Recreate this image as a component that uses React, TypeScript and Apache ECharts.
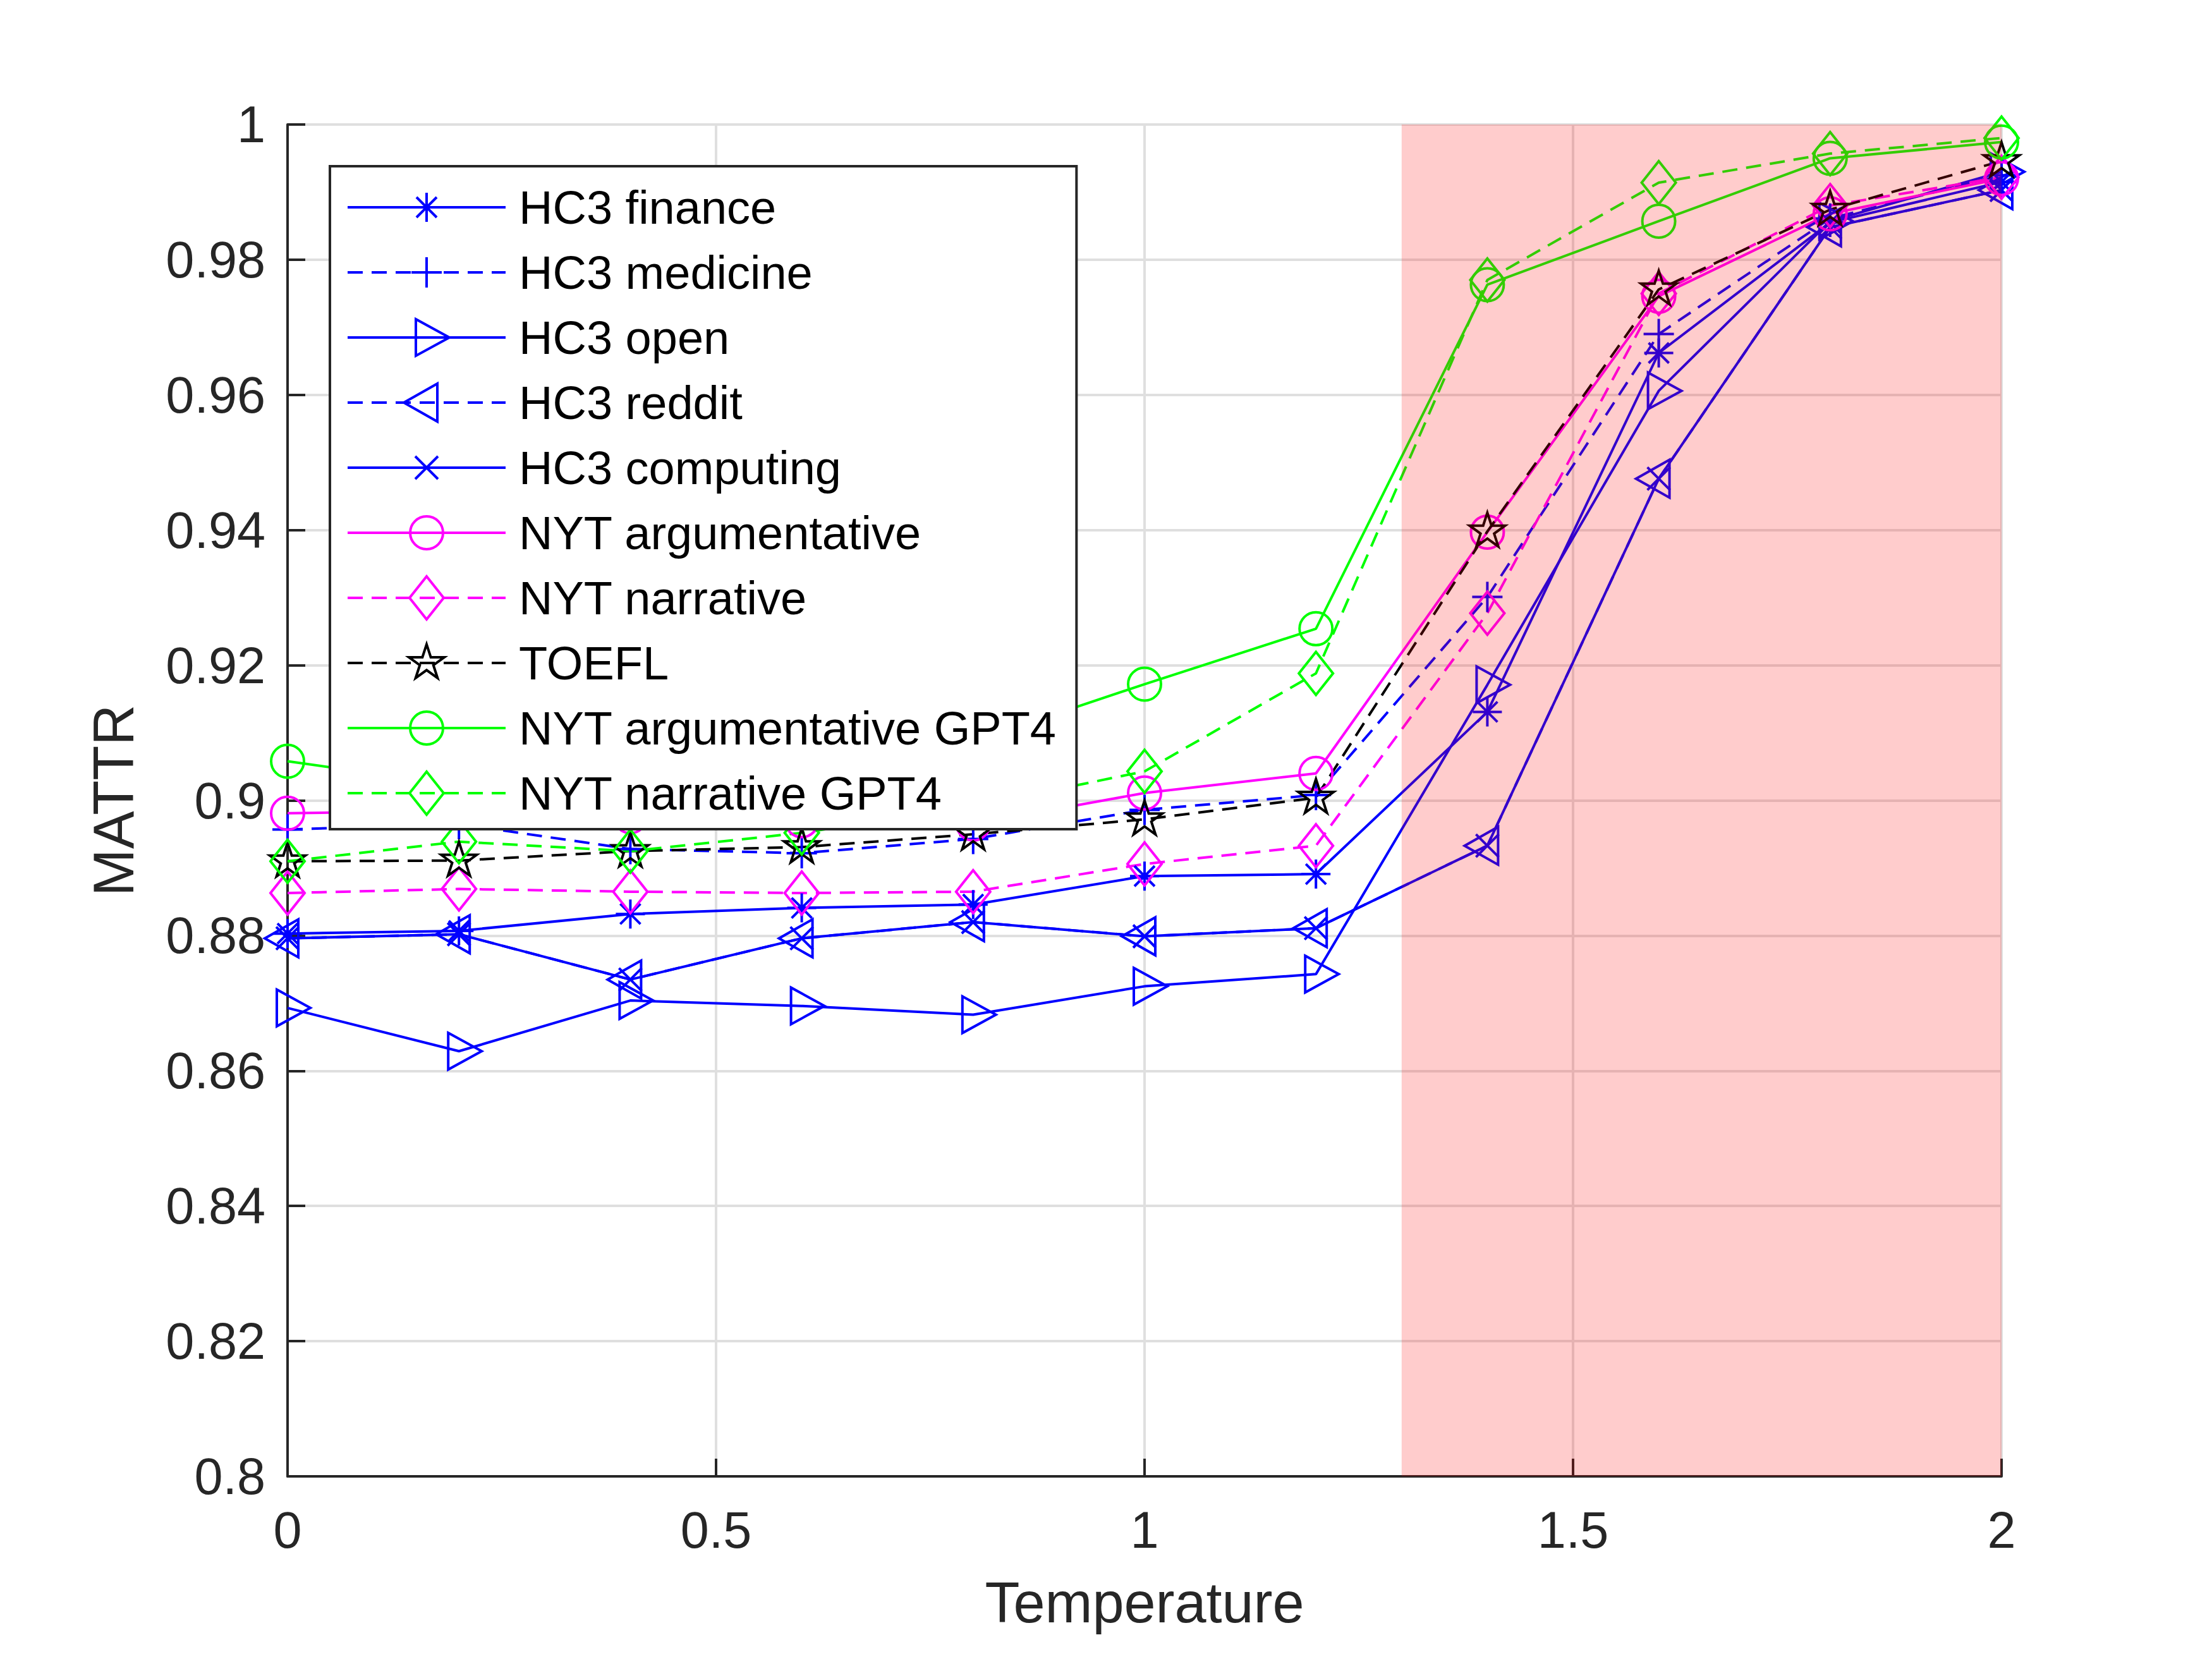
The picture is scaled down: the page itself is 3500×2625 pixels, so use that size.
import React, { useEffect, useRef } from "react";
import * as echarts from "echarts";

// ---------------- data ----------------
const temperatures = [0, 0.2, 0.4, 0.6, 0.8, 1.0, 1.2, 1.4, 1.6, 1.8, 2.0];

const hc3Finance = [0.8803, 0.8807, 0.8832, 0.8841, 0.8846, 0.8888, 0.8891, 0.9131, 0.9662, 0.9855, 0.9915];
const hc3Medicine = [0.8957, 0.8965, 0.8928, 0.8922, 0.8943, 0.8986, 0.9008, 0.9301, 0.969, 0.9861, 0.9925];
const hc3Open = [0.8693, 0.8629, 0.8704, 0.8696, 0.8683, 0.8725, 0.8743, 0.9171, 0.9606, 0.9857, 0.993];
const hc3Reddit = [0.8796, 0.8802, 0.8735, 0.8796, 0.882, 0.8799, 0.8811, 0.8933, 0.9476, 0.9848, 0.9903];
const hc3Computing = [0.8796, 0.8802, 0.8735, 0.8796, 0.882, 0.8799, 0.8811, 0.8933, 0.9476, 0.9848, 0.9903];
const nytArgumentative = [0.8981, 0.8985, 0.8976, 0.897, 0.8965, 0.9011, 0.904, 0.9397, 0.9746, 0.9868, 0.992];
const nytNarrative = [0.8863, 0.8869, 0.8865, 0.8863, 0.8865, 0.8906, 0.8933, 0.9277, 0.975, 0.988, 0.9922];
const toefl = [0.891, 0.8911, 0.8925, 0.8931, 0.895, 0.8972, 0.9004, 0.9398, 0.9756, 0.9874, 0.9946];
const nytArgumentativeGpt4 = [0.9058, 0.9022, 0.9035, 0.9055, 0.9087, 0.9172, 0.9254, 0.9763, 0.9857, 0.995, 0.9974];
const nytNarrativeGpt4 = [0.891, 0.8939, 0.8925, 0.8952, 0.8991, 0.9043, 0.9188, 0.977, 0.9914, 0.9957, 0.998];

const seriesNames = [
  "HC3 finance",
  "HC3 medicine",
  "HC3 open",
  "HC3 reddit",
  "HC3 computing",
  "NYT argumentative",
  "NYT narrative",
  "TOEFL",
  "NYT argumentative GPT4",
  "NYT narrative GPT4",
];
const seriesValues = [
  hc3Finance,
  hc3Medicine,
  hc3Open,
  hc3Reddit,
  hc3Computing,
  nytArgumentative,
  nytNarrative,
  toefl,
  nytArgumentativeGpt4,
  nytNarrativeGpt4,
];

const xMin = 0;
const xMax = 2;
const xInterval = 0.5;
const yMin = 0.8;
const yMax = 1;
const yInterval = 0.02;
const shadedRange = [1.3, 2.0];

// ---------------- styles ----------------
const BOX = "M-36 -36 M36 36 ";
const markers = {
  asterisk: BOX + "M0 -23 L0 23 M-23 0 L23 0 M-16 -16 L16 16 M-16 16 L16 -16",
  plus: BOX + "M0 -24 L0 24 M-24 0 L24 0",
  triRight: BOX + "M-17 -29 L36 0 L-17 29 Z",
  triLeft: BOX + "M17 -30 L-36 0 L17 30 Z",
  cross: BOX + "M-18 -18 L18 18 M-18 18 L18 -18",
  circle: BOX + "M-26 0 A26 26 0 1 1 26 0 A26 26 0 1 1 -26 0 Z",
  diamond: BOX + "M0 -34 L27 0 L0 34 L-27 0 Z",
  star:
    BOX +
    "M0 -29.5 L6.62 -9.12 L28.06 -9.12 L10.72 3.48 L17.34 23.87 L0 11.27 L-17.34 23.87 L-10.72 3.48 L-28.06 -9.12 L-6.62 -9.12 Z",
};

const BLUE = "#0000ff";
const MAGENTA = "#ff00ff";
const BLACK = "#000000";
const GREEN = "#00ff00";
const DASH = [24, 14];

const seriesStyles = [
  { color: BLUE, dashed: false, marker: markers.asterisk },
  { color: BLUE, dashed: true, marker: markers.plus },
  { color: BLUE, dashed: false, marker: markers.triRight },
  { color: BLUE, dashed: true, marker: markers.triLeft },
  { color: BLUE, dashed: false, marker: markers.cross },
  { color: MAGENTA, dashed: false, marker: markers.circle },
  { color: MAGENTA, dashed: true, marker: markers.diamond },
  { color: BLACK, dashed: true, marker: markers.star },
  { color: GREEN, dashed: false, marker: markers.circle },
  { color: GREEN, dashed: true, marker: markers.diamond },
];

const FONT = '"Liberation Sans", Arial, Helvetica, sans-serif';
const AXIS_COLOR = "#262626";
const GRID_COLOR = "#dfdfdf";
const LW = 4;

function buildOption() {
  const lineSeries = seriesNames.map((name, i) => {
    const st = seriesStyles[i];
    return {
      name,
      type: "line",
      data: temperatures.map((t, j) => [t, seriesValues[i][j]]),
      symbol: "path://" + st.marker,
      symbolSize: 72,
      showSymbol: true,
      z: 2,
      lineStyle: { color: st.color, width: LW, type: st.dashed ? DASH : "solid" },
      itemStyle: { color: "rgba(0,0,0,0)", borderColor: st.color, borderWidth: LW },
      emphasis: { disabled: true },
    };
  });

  const shadeSeries = {
    type: "custom",
    name: "shade",
    silent: true,
    z: 10,
    data: [[shadedRange[0], yMin, shadedRange[1], yMax]],
    renderItem: (params: any, api: any) => {
      const p0 = api.coord([api.value(0), api.value(3)]);
      const p1 = api.coord([api.value(2), api.value(1)]);
      return {
        type: "rect",
        shape: { x: p0[0], y: p0[1], width: p1[0] - p0[0], height: p1[1] - p0[1] },
        style: { fill: "rgba(255,0,0,0.2)" },
      };
    },
  };

  return {
    animation: false,
    backgroundColor: "#ffffff",
    grid: { left: 455, right: 333, top: 197, bottom: 289, containLabel: false },
    legend: {
      orient: "vertical",
      left: 522,
      top: 263,
      itemWidth: 250,
      itemHeight: 90,
      itemGap: 27,
      padding: [27, 31, 19, 26],
      borderColor: AXIS_COLOR,
      borderWidth: LW,
      backgroundColor: "#ffffff",
      selectedMode: false,
      textStyle: { fontFamily: FONT, fontSize: 74, color: "#000000", padding: [0, 0, 0, 16] },
      data: seriesNames.map((name, i) => ({
        name,
        itemStyle: { color: "rgba(0,0,0,0)", borderColor: seriesStyles[i].color, borderWidth: LW },
        lineStyle: { color: seriesStyles[i].color, width: LW, type: seriesStyles[i].dashed ? DASH : "solid" },
      })),
    },
    xAxis: {
      type: "value",
      min: xMin,
      max: xMax,
      interval: xInterval,
      name: "Temperature",
      nameLocation: "middle",
      nameGap: 155,
      nameTextStyle: { fontFamily: FONT, fontSize: 90, color: AXIS_COLOR },
      axisLine: { show: true, lineStyle: { color: AXIS_COLOR, width: LW } },
      axisTick: { show: true, inside: true, length: 28, lineStyle: { color: AXIS_COLOR, width: LW } },
      axisLabel: { fontFamily: FONT, fontSize: 81, color: AXIS_COLOR, margin: 44 },
      splitLine: { show: true, lineStyle: { color: GRID_COLOR, width: LW } },
    },
    yAxis: {
      type: "value",
      min: yMin,
      max: yMax,
      interval: yInterval,
      name: "MATTR",
      nameLocation: "middle",
      nameGap: 230,
      nameTextStyle: { fontFamily: FONT, fontSize: 90, color: AXIS_COLOR },
      axisLine: { show: true, lineStyle: { color: AXIS_COLOR, width: LW } },
      axisTick: { show: true, inside: true, length: 28, lineStyle: { color: AXIS_COLOR, width: LW } },
      axisLabel: { fontFamily: FONT, fontSize: 81, color: AXIS_COLOR, margin: 35 },
      splitLine: { show: true, lineStyle: { color: GRID_COLOR, width: LW } },
    },
    series: [...lineSeries, shadeSeries],
  };
}

export default function App() {
  const ref = useRef<HTMLDivElement>(null);
  useEffect(() => {
    document.body.style.margin = "0";
    if (!ref.current) return;
    const chart = echarts.init(ref.current, null, { renderer: "svg" });
    chart.setOption(buildOption() as any);
    return () => {
      chart.dispose();
    };
  }, []);
  return <div ref={ref} style={{ width: 3500, height: 2625 }} />;
}
